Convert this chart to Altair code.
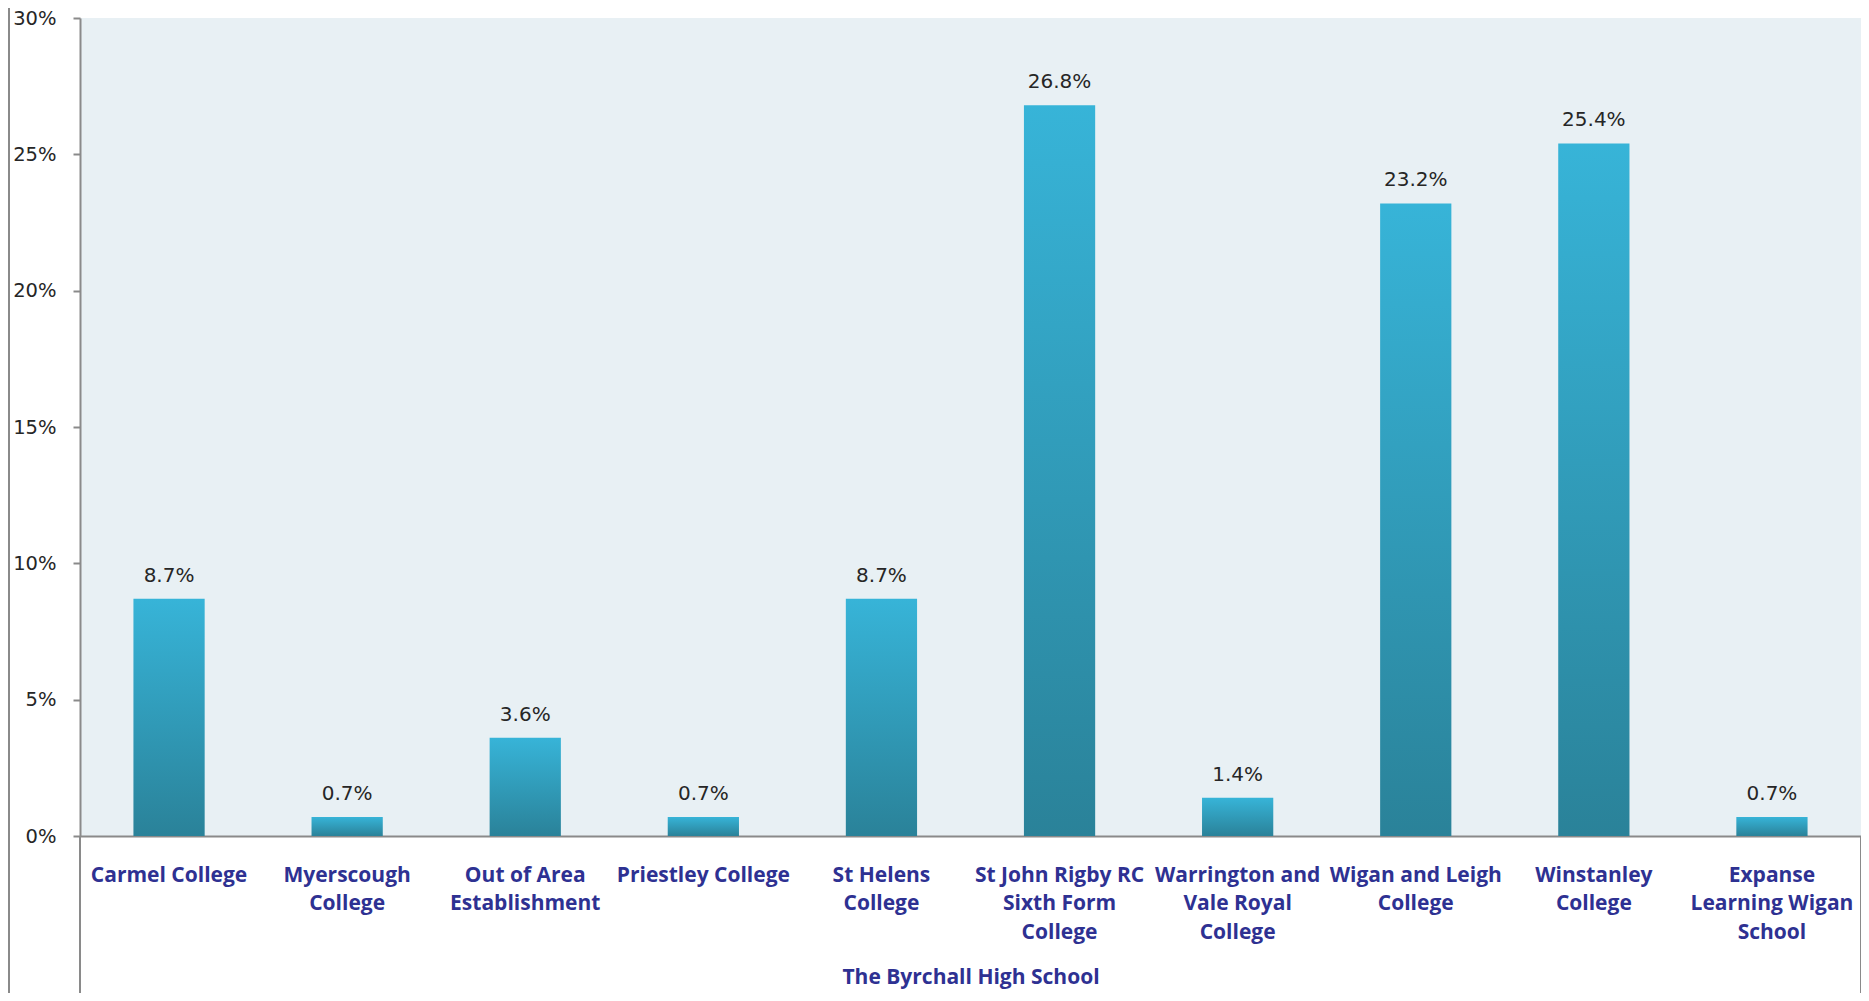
import altair as alt
import pandas as pd

categories = [
    "Carmel College",
    "Myerscough College",
    "Out of Area Establishment",
    "Priestley College",
    "St Helens College",
    "St John Rigby RC Sixth Form College",
    "Warrington and Vale Royal College",
    "Wigan and Leigh College",
    "Winstanley College",
    "Expanse Learning Wigan School",
]
label_lines = [
    "Carmel College",
    "Myerscough|College",
    "Out of Area|Establishment",
    "Priestley College",
    "St Helens|College",
    "St John Rigby RC|Sixth Form|College",
    "Warrington and|Vale Royal|College",
    "Wigan and Leigh|College",
    "Winstanley|College",
    "Expanse|Learning Wigan|School",
]
shares = [0.087, 0.007, 0.036, 0.007, 0.087, 0.268, 0.014, 0.232, 0.254, 0.007]
y_ticks = [0, 0.05, 0.10, 0.15, 0.20, 0.25, 0.30]
group_label = "The Byrchall High School"

df = pd.DataFrame({"category": categories, "label": label_lines, "share": shares})

W, H = 1781, 818
PAD_L, PAD_T, PAD_B = 72, 10, 157

x_enc = alt.X(
    "label:N",
    sort=label_lines,
    scale=alt.Scale(paddingInner=0.6, paddingOuter=0.3),
    axis=alt.Axis(
        title=group_label,
        labelExpr="split(datum.value, '|')",
        labelAngle=0,
        labelFont="Open Sans",
        labelFontWeight="bold",
        labelFontSize=21,
        labelColor="#2E3192",
        labelLineHeight=28.5,
        labelPadding=28,
        labelLimit=0,
        ticks=False,
        domainColor="#8A8A8A",
        domainWidth=2,
        titleFont="Open Sans",
        titleFontWeight="bold",
        titleFontSize=21,
        titleColor="#2E3192",
        titleY=141,
        titleBaseline="middle",
    ),
)
y_enc = alt.Y(
    "share:Q",
    scale=alt.Scale(domain=[0, 0.30], nice=False),
    axis=alt.Axis(
        title=None,
        values=y_ticks,
        format=".0%",
        grid=False,
        labelFont="DejaVu Sans",
        labelFontSize=19.5,
        labelColor="#262626",
        labelPadding=17,
        tickSize=7,
        tickWidth=2,
        tickColor="#8A8A8A",
        domainColor="#8A8A8A",
        domainWidth=2,
    ),
)

bars = alt.Chart(df).mark_bar(
    fill=alt.Gradient(
        gradient="linear",
        stops=[
            alt.GradientStop(color="#37B4D8", offset=0),
            alt.GradientStop(color="#2A8299", offset=1),
        ],
        x1=0, x2=0, y1=0, y2=1,
    )
).encode(x=x_enc, y=y_enc)

labels = alt.Chart(df).mark_text(
    font="DejaVu Sans", fontSize=20, color="#262626", baseline="alphabetic", dy=-17
).encode(x=alt.X("label:N", sort=label_lines), y="share:Q", text=alt.Text("share:Q", format=".1%"))

frame_df = pd.DataFrame({"k": [0]})
frame_style = dict(color="#8A8A8A", strokeWidth=2)
outer_left = alt.Chart(frame_df).mark_rule(**frame_style).encode(
    x=alt.value(-71), y=alt.value(-PAD_T), y2=alt.value(H + PAD_B)
)
axis_ext = alt.Chart(frame_df).mark_rule(**frame_style).encode(
    x=alt.value(0), y=alt.value(H), y2=alt.value(H + PAD_B)
)
right_ext = alt.Chart(frame_df).mark_rule(**frame_style).encode(
    x=alt.value(W), y=alt.value(H), y2=alt.value(H + PAD_B)
)

chart = (
    alt.layer(bars, labels, outer_left, axis_ext, right_ext)
    .properties(
        width=W,
        height=H,
        autosize=alt.AutoSizeParams(type="none"),
        padding={"left": PAD_L, "top": PAD_T, "right": 0, "bottom": PAD_B},
        background="white",
    )
    .configure_view(fill="#E8F0F4", strokeWidth=0)
)

chart.save("out.html", embed_options={"renderer": "svg", "actions": False})
